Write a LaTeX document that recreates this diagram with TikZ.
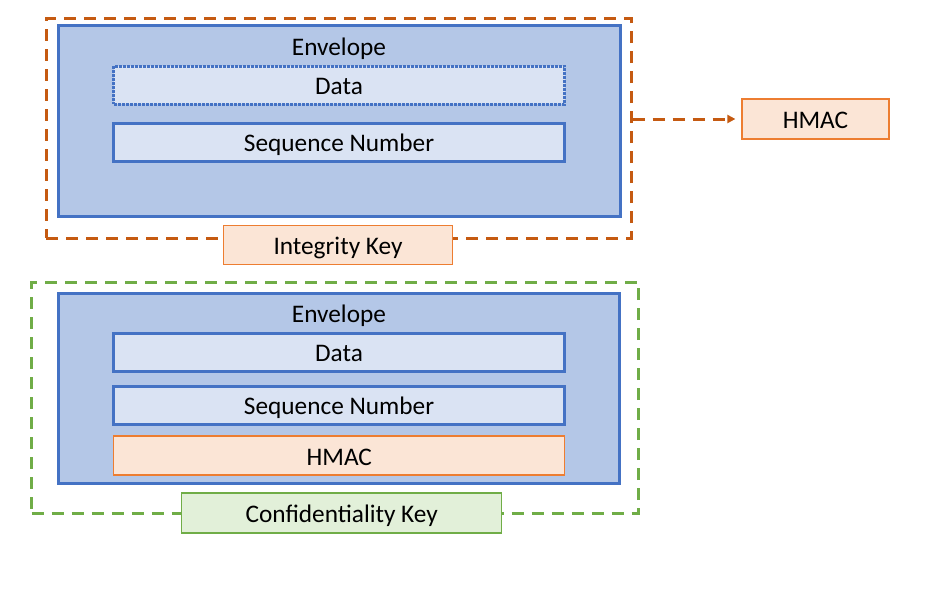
\documentclass[tikz,border=0pt]{standalone}
\usepackage{fontspec}
\setmainfont{Carlito}
\usetikzlibrary{arrows.meta}

\definecolor{envblue}{HTML}{4472C4}
\definecolor{envfill}{HTML}{B4C7E7}
\definecolor{itemfill}{HTML}{DAE3F3}
\definecolor{keyfill}{HTML}{FBE5D6}
\definecolor{keyline}{HTML}{ED7D31}
\definecolor{intline}{HTML}{C55A11}
\definecolor{conffill}{HTML}{E2F0D9}
\definecolor{confline}{HTML}{70AD47}

\begin{document}
\begin{tikzpicture}[x=1pt, y=-1pt,
	every node/.style={font=\fontsize{25.3}{29}\selectfont, inner sep=0pt, text height=23.5pt, text depth=4pt},
	frame/.style={draw, line width=3pt, dash pattern=on 12pt off 8pt, minimum width=#1},
	envelope/.style={draw=envblue, fill=envfill, line width=3pt},
	item/.style={draw=envblue, fill=itemfill, line width=3pt, minimum width=451pt, minimum height=38pt},
	hmacbox/.style={draw=keyline, fill=keyfill, line width=1.2pt, minimum height=39pt},
	confbox/.style={draw=confline, fill=conffill, line width=1.2pt, minimum height=40pt}]
	
	\useasboundingbox (0,0) rectangle (932,597);
	
	% integrity part
	\node[frame=585pt, draw=intline, minimum height=219.5pt] (intg) at (338.5, 128.3) {};
	\node[envelope, minimum width=562pt, minimum height=191pt] (env1) at (339, 121) {};
	\node (envlabel1) at (339, 46) {Envelope};
	\node[item, densely dotted] (data1) at (339, 85) {Data};
	\node[item] (seq1) at (339, 142) {Sequence Number};
	\node[hmacbox, minimum width=229pt] (ikey) at (338, 245) {Integrity Key};
	\node[hmacbox, minimum width=147pt, minimum height=40pt] (hmac1) at (815.5, 119) {HMAC};
	
	\draw[intline, line width=3pt, dash pattern=on 12pt off 8pt, -{Triangle[length=8pt, width=8pt]}, shorten >=6pt]
		(intg.east |- hmac1.west) -- (hmac1.west);
	
	% confidentiality part
	\node[frame=607pt, draw=confline, minimum height=231pt] (conf) at (335, 397.5) {};
	\node[envelope, minimum width=561.5pt, minimum height=190.5pt] (env2) at (339.2, 388.7) {};
	\node (envlabel2) at (339, 313) {Envelope};
	\node[item] (data2) at (339, 352) {Data};
	\node[item] (seq2) at (339, 405) {Sequence Number};
	\node[hmacbox, minimum width=451pt] (hmac2) at (339.3, 455.5) {HMAC};
	\node[confbox, minimum width=320pt] (ckey) at (341.7, 513) {Confidentiality Key};
	
\end{tikzpicture}
\end{document}
